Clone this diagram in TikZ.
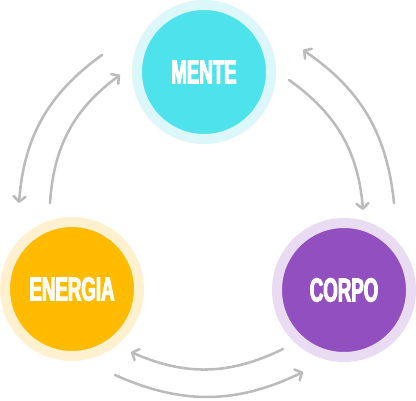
\documentclass[tikz,border=0pt]{standalone}
\usepackage{fontspec}
\usetikzlibrary{arrows.meta}
\newfontfamily\labelfont{Liberation Sans}[FakeStretch=0.56, FakeBold=3,
  BoldFont={Liberation Sans Bold}, BoldFeatures={FakeStretch=0.56, FakeBold=3}]
\definecolor{menteC}{HTML}{4DE2EC}
\definecolor{menteL}{HTML}{DCF7FA}
\definecolor{energiaC}{HTML}{FFBB00}
\definecolor{energiaL}{HTML}{FFF0CF}
\definecolor{corpoC}{HTML}{924FC0}
\definecolor{corpoL}{HTML}{E8DBF2}
\definecolor{flowC}{HTML}{BBBBBB}

\begin{document}
\begin{tikzpicture}[x=0.75pt, y=0.75pt,
    bubble/.style={circle, line width=7.5pt, minimum size=100.5pt, inner sep=0pt,
      text=white, font=\labelfont\bfseries\fontsize{25pt}{25pt}\selectfont},
    flow/.style={flowC, line width=1.9pt, line cap=round,
      -{Straight Barb[round, length=4pt, width=9pt]}}]
    \useasboundingbox (0,0) rectangle (416,400);
    % the three circles
    \node[bubble, fill=menteC, draw=menteL] (mente) at (204,328) {MENTE};
    \node[bubble, fill=energiaC, draw=energiaL] (energia) at (72,111) {ENERGIA};
    \node[bubble, fill=corpoC, draw=corpoL] (corpo) at (344,110) {CORPO};
    % arrow ends
    \coordinate (l1) at (102,345); \coordinate (l2) at (19,197);
    \coordinate (l3) at (50,197); \coordinate (l4) at (120,325);
    \coordinate (r1) at (289,320); \coordinate (r2) at (363,190);
    \coordinate (r3) at (394,197); \coordinate (r4) at (303,350);
    \coordinate (b1) at (283,51); \coordinate (b2) at (131,48);
    \coordinate (b3) at (115,25); \coordinate (b4) at (303,28);
    % arrows
    \draw[flow] (l1) to[bend right=25] (l2);
    \draw[flow] (l3) to[bend left=25] (l4);
    \draw[flow] (r1) to[bend left=25] (r2);
    \draw[flow] (r3) to[bend right=25] (r4);
    \draw[flow] (b1) to[bend left=25] (b2);
    \draw[flow] (b3) to[bend right=25] (b4);
\end{tikzpicture}
\end{document}
